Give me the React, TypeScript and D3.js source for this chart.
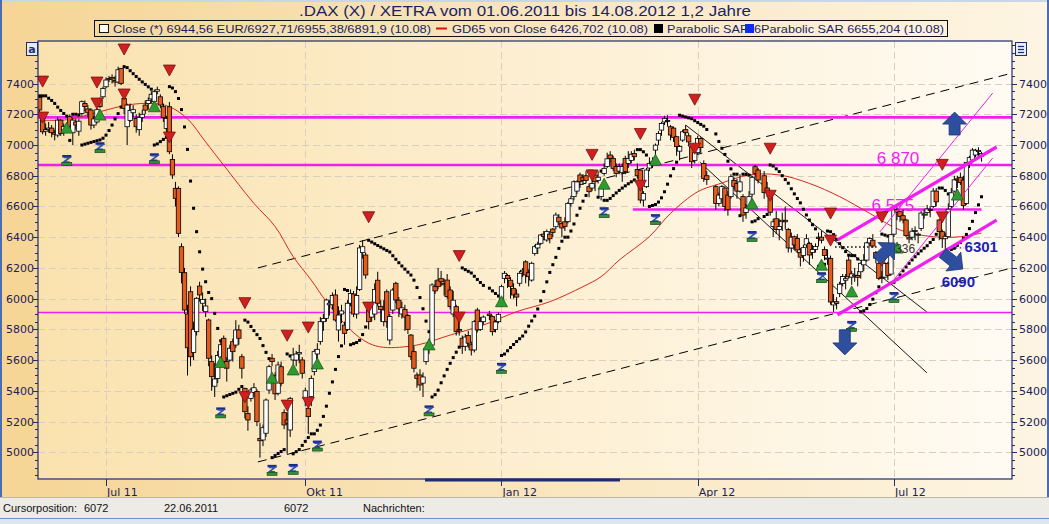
import React from 'react';
import * as d3 from 'd3';

type Bar = [number, number, number, number] | null;

// Daily OHLC, one slot per weekday from 01.06.2011 to 10.08.2012 (null = exchange holiday)
const jun11: Bar[] = [
  [7310,7320,7200,7228],[7184,7200,7070,7086],[7090,7140,7060,7100],[7100,7150,7080,7110],[7110,7130,7050,7080],
  [7080,7100,7030,7070],[7065,7180,7050,7162],[7162,7170,7060,7075],[7080,7140,7060,7120],[7110,7130,7080,7100],
  [7184,7200,7100,7123],[7080,7170,7000,7162],[7150,7170,7100,7130],[7090,7170,7060,7155],[7206,7290,7190,7282],
  [7270,7290,7220,7250],[7235,7260,7180,7210],[7228,7240,7100,7130],[7130,7190,7110,7170],[7150,7240,7140,7230],
  [7292,7310,7240,7250],[7314,7380,7300,7368],
];
const jul11: Bar[] = [
  [7379,7440,7370,7423],[7430,7450,7410,7433],[7440,7460,7400,7430],[7420,7450,7380,7410],[7410,7510,7400,7490],
  [7499,7500,7390,7401],[7303,7320,7200,7238],[7119,7270,7000,7260],[7160,7270,7150,7225],[7210,7260,7180,7230],
  [7173,7200,7080,7119],[7100,7210,7060,7180],[7180,7230,7150,7200],[7260,7290,7200,7227],[7270,7310,7230,7290],
  [7300,7350,7270,7330],[7282,7360,7260,7347],[7350,7380,7330,7360],[7314,7330,7240,7260],[7250,7270,7150,7180],
  [7108,7190,7080,7173],
];
const aug11: Bar[] = [
  [7249,7280,6940,6956],[6906,6940,6780,6805],[6718,6760,6600,6653],[6718,6730,6400,6425],[6338,6360,6100,6170],
  [6169,6200,5900,5926],[5900,5960,5500,5680],[6045,6080,5560,5622],[5650,5850,5600,5800],[5785,6010,5760,6002],
  [6082,6110,5980,6024],[5970,6040,5920,5995],[5915,6000,5880,5952],[5861,5870,5560,5612],[5590,5630,5400,5492],
  [5430,5580,5360,5477],[5480,5660,5450,5630],[5620,5720,5580,5700],[5742,5760,5560,5590],[5590,5620,5460,5547],
  [5600,5700,5590,5677],[5720,5740,5590,5655],[5698,5860,5680,5796],
];
const sep11: Bar[] = [
  [5796,5830,5700,5742],[5622,5640,5480,5547],[5416,5420,5220,5264],[5253,5300,5140,5210],[5351,5420,5330,5405],
  [5390,5450,5360,5420],[5395,5410,5170,5199],[5090,5190,4965,5075],[5080,5180,5040,5160],[5124,5350,5100,5340],
  [5405,5570,5380,5557],[5612,5640,5560,5590],[5500,5520,5340,5380],[5384,5590,5370,5568],[5557,5590,5430,5449],
  [5258,5280,5150,5178],[5210,5260,4990,5190],[5145,5360,5100,5351],[5601,5680,5570,5633],[5600,5660,5560,5640],
  [5640,5700,5580,5650],[5601,5620,5480,5514],
];
const oct11: Bar[] = [
  [5350,5420,5300,5400],[5286,5320,5120,5232],[5362,5500,5300,5481],[5525,5670,5500,5655],[5640,5710,5600,5670],
  [5720,5880,5700,5850],[5850,5900,5790,5870],[5872,6000,5850,5991],[5960,5990,5890,5970],[5960,6040,5930,6020],
  [6024,6060,5850,5861],[5796,5950,5720,5893],[5900,5960,5840,5920],[5828,5850,5700,5774],[5800,5990,5790,5970],
  [5970,6060,5950,6034],[6030,6050,5880,5900],[5900,6080,5870,6020],[6060,6350,6050,6330],[6300,6380,6260,6338],
  [6284,6300,6130,6154],
];
const nov11: Bar[] = [
  [5926,5960,5800,5850],[5880,5980,5850,5950],[5900,6100,5860,6060],[6120,6175,5950,5970],[5950,5990,5850,5930],
  [5850,5990,5820,5926],[6045,6060,5810,5850],[5731,5900,5700,5883],[5926,6070,5900,6056],[6100,6110,5970,5991],
  [5990,6010,5880,5933],[5900,5980,5870,5940],[5930,5960,5790,5880],[5890,5900,5770,5800],[5763,5770,5600,5622],
  [5655,5690,5520,5547],[5503,5520,5420,5481],[5503,5540,5400,5438],[5450,5520,5360,5490],[5590,5700,5570,5677],
  [5680,5740,5640,5700],[5698,6100,5690,6089],
];
const dec11: Bar[] = [
  [6080,6120,6030,6050],[6121,6200,6060,6078],[6130,6180,6080,6110],[6100,6130,6020,6090],[6121,6160,6000,6013],
  [6056,6080,5930,5948],[5900,6050,5880,5990],[5948,5960,5760,5785],[5800,5870,5760,5790],[5742,5760,5640,5688],
  [5690,5770,5660,5750],[5760,5790,5680,5710],[5700,5720,5630,5666],[5666,5860,5650,5850],[5926,5940,5780,5796],
  [5800,5880,5790,5850],[5850,5890,5830,5880],null,[5900,5920,5860,5890],[5883,5890,5760,5785],
  [5800,5860,5780,5848],[5850,5910,5840,5898],
];
const jan12: Bar[] = [
  [5980,6090,5970,6078],[6132,6180,6100,6165],[6150,6160,6070,6130],[6120,6140,6000,6080],[6067,6100,6000,6024],
  [6030,6060,5950,6010],[6100,6180,6080,6165],[6175,6200,6140,6185],[6240,6250,6100,6154],[6170,6190,6080,6143],
  [6121,6240,6110,6230],[6295,6350,6280,6338],[6330,6370,6290,6354],[6360,6420,6350,6414],[6420,6440,6380,6404],
  [6382,6450,6370,6436],[6420,6440,6360,6390],[6453,6460,6400,6431],[6468,6560,6450,6544],[6530,6550,6480,6500],
  [6490,6500,6400,6460],[6500,6530,6440,6470],
];
const feb12: Bar[] = [
  [6501,6630,6490,6620],[6620,6670,6600,6650],[6664,6770,6640,6761],[6700,6770,6680,6760],[6805,6820,6720,6761],
  [6790,6810,6740,6770],[6800,6830,6750,6770],[6729,6750,6660,6696],[6720,6770,6700,6750],[6805,6820,6700,6761],
  [6770,6830,6750,6790],[6664,6730,6640,6718],[6815,6880,6800,6848],[6860,6950,6850,6910],[6935,6960,6880,6913],
  [6913,6930,6830,6848],[6860,6880,6790,6815],[6830,6880,6810,6860],[6820,6880,6760,6860],[6913,6930,6810,6826],
  [6880,6960,6850,6913],
];
const mar12: Bar[] = [
  [6900,6960,6880,6940],[6945,6970,6900,6924],[6840,6880,6780,6800],[6837,6840,6620,6642],[6642,6700,6600,6685],
  [6729,6850,6720,6837],[6850,6920,6830,6880],[6880,6920,6850,6890],[6967,7010,6900,6999],[7032,7090,7000,7075],
  [7097,7150,7060,7140],[7150,7190,7130,7173],[7160,7194,7120,7154],[7119,7130,7030,7065],[7110,7120,7020,7050],
  [7054,7060,6930,6989],[6960,7000,6900,6990],[7032,7100,7020,7086],[7100,7130,7060,7080],[7060,7080,6990,7020],
  [6989,7000,6850,6891],[6900,6980,6880,6950],
];
const apr12: Bar[] = [
  [6950,7060,6940,7043],[7043,7050,6950,6983],[6880,6900,6760,6783],[6800,6830,6740,6775],null,
  null,[6729,6740,6580,6620],[6620,6690,6600,6674],[6650,6740,6620,6729],[6720,6730,6570,6600],
  [6674,6700,6540,6580],[6664,6810,6650,6794],[6770,6790,6710,6730],[6750,6780,6650,6700],[6700,6810,6690,6760],
  [6664,6680,6500,6544],[6560,6610,6520,6590],[6600,6700,6590,6664],[6680,6800,6660,6790],[6859,6870,6790,6815],
  [6837,6850,6750,6772],
];
const may12: Bar[] = [
  null,[6800,6830,6650,6690],[6720,6760,6660,6694],[6690,6700,6540,6562],[6470,6520,6400,6500],
  [6520,6570,6420,6450],[6450,6520,6380,6470],[6501,6560,6440,6510],[6510,6600,6450,6500],[6450,6460,6300,6330],
  [6330,6430,6300,6400],[6403,6410,6320,6349],[6392,6420,6300,6317],[6300,6330,6210,6270],[6280,6350,6240,6332],
  [6350,6420,6330,6390],[6360,6370,6220,6284],[6300,6350,6260,6320],[6320,6360,6300,6339],[6400,6430,6340,6391],
  [6400,6440,6360,6380],[6320,6340,6250,6281],[6262,6320,6220,6264],
];
const jun12: Bar[] = [
  [6262,6280,5960,5978],[5959,6030,5914,5978],[5980,6010,5930,5969],[6034,6110,6010,6094],[6099,6160,6080,6144],
  [6120,6160,6060,6130],[6251,6280,6130,6142],[6140,6180,6090,6161],[6150,6200,6110,6153],[6150,6180,6080,6139],
  [6175,6240,6130,6230],[6220,6290,6180,6250],[6251,6370,6240,6363],[6363,6400,6340,6392],[6380,6420,6330,6343],
  [6300,6310,6230,6263],[6230,6240,6120,6132],[6140,6180,6100,6136],[6140,6240,6130,6228],[6230,6240,6120,6150],
  [6160,6420,6150,6416],
];
const jul12: Bar[] = [
  [6420,6590,6400,6578],[6580,6600,6510,6560],[6566,6570,6500,6535],[6540,6580,6490,6512],[6512,6520,6400,6410],
  [6400,6420,6360,6388],[6400,6460,6380,6439],[6440,6470,6380,6444],[6420,6430,6360,6413],[6457,6570,6440,6557],
  [6550,6580,6520,6550],[6560,6610,6540,6584],[6580,6600,6530,6579],[6600,6720,6590,6700],[6700,6720,6600,6630],
  [6512,6520,6380,6436],[6436,6450,6330,6390],[6390,6430,6320,6406],[6403,6620,6400,6582],[6600,6720,6580,6689],
  [6700,6800,6690,6773],[6780,6800,6720,6772],
];
const aug12: Bar[] = [
  [6790,6820,6740,6755],[6772,6800,6580,6606],[6620,6890,6610,6886],[6880,6930,6850,6918],[6902,6980,6890,6967],
  [6935,6975,6920,6966],[6957,6985,6930,6965],[6927.71,6955.38,6891.9,6944.56],
];

const ohlc: Bar[] = [
  ...jun11, ...jul11, ...aug11, ...sep11, ...oct11, ...nov11, ...dec11,
  ...jan12, ...feb12, ...mar12, ...apr12, ...may12, ...jun12, ...jul12, ...aug12,
];

const xTickIdx = [22, 88, 153, 218, 283];
const xTickLabels = ['Jul 11', 'Okt 11', 'Jan 12', 'Apr 12', 'Jul 12'];
const yTickValues = [5000, 5200, 5400, 5600, 5800, 6000, 6200, 6400, 6600, 6800, 7000, 7200, 7400];

// GD65 (65-day moving average)
const gd65Idx = [0, 9, 20, 29, 37, 43, 49, 55, 61, 71, 78, 84, 90, 95, 103, 109, 114, 125, 136, 147, 158, 169, 180, 186, 192, 202, 209, 218, 225, 235, 245, 255, 265, 275, 285, 296, 305, 312];
const gd65Val = [7162, 7165, 7217, 7260, 7271, 7249, 7170, 7020, 6868, 6620, 6470, 6273, 6120, 5980, 5796, 5710, 5683, 5698, 5763, 5828, 5915, 5980, 6078, 6143, 6251, 6404, 6555, 6696, 6746, 6805, 6805, 6750, 6664, 6555, 6447, 6403, 6403, 6427];

// Signal markers
const sellIdx = [1, 19, 28, 43, 68, 82, 89, 109, 139, 183, 199, 217, 242, 262, 279, 299];
const sellTop = [7416, 7410, 7625, 7488, 5974, 5762, 5815, 6533, 6280, 6939, 7075, 7298, 6979, 6557, 6533, 6874];
const sellMid = [7182, 7273, 7332, 7052, 5362, 5307, 5325, 5945, 5880, 6805, 6738, 6979, 6673, 6381, 6251, 6533];
const buyIdx = [9, 20, 38, 60, 77, 84, 92, 129, 153, 187, 204, 236, 259, 269, 284, 304];
const buyVal = [7110, 7195, 7249, 5584, 5482, 5536, 5575, 5699, 5980, 6745, 6901, 6617, 6218, 6044, 6329, 6674];
const flagIdx = [9, 20, 38, 60, 77, 84, 92, 129, 153, 187, 204, 236, 259, 269, 283];
const flagVal = [6896, 6979, 6907, 5253, 4879, 4885, 5037, 5266, 5543, 6556, 6511, 6401, 6133, 5816, 6004];

// Drawn analysis lines (index, value)
const channelHigh = [[72.3, 6200], [322.1, 7468]];
const channelLow = [[72.3, 4937], [322.1, 6200]];
const downLineA = [[214, 7130], [293.9, 5913]];
const downLineB = [[218.7, 6889], [293.9, 5517]];
const magThickA = [[264.3, 6382], [317, 6987]];
const magThickB = [[264.3, 5894], [317, 6511]];
const magThin1 = [[278.3, 6434], [315.7, 7338]];
const magThin2 = [[281.6, 6089], [315.7, 6915]];
const mag6575 = [[196.5, 6580], [312, 6580]];
const magFullThick = [7180, 6870];
const magFullThin = [5910];
const dotted6336 = [[263.5, 6336], [278, 6336]];
const dottedBlue = [[300.8, 6330], [306.2, 6330]];

const arrowsUp = [[[303.1, 7065], [303.1, 7214]], [[277.3, 6251], [283.3, 6362]]];
const arrowsDown = [[[266.7, 5797], [266.7, 5634]], [[299.1, 6297], [305.8, 6193]]];

const labelsMagenta = [[277.3, 6876, '6 870'], [275.6, 6570, '6 575']];
const labelsBlue = [[306.4, 6304, '6301'], [298.8, 6076, '6090']];
const labelGray = [[281.2, 6297, '6336']];

function parabolicSar(rows: Bar[], startSar: number) {
  const out: [number, number][] = [];
  let up = false, af = 0.02, ep = NaN, sar = NaN;
  const hist: [number, number, number, number][] = [];
  rows.forEach((r, i) => {
    if (!r) return;
    if (isNaN(sar)) {
      sar = startSar; ep = r[2];
      out.push([i, sar]); hist.push(r); return;
    }
    const p1 = hist[hist.length - 1];
    const p2 = hist.length > 1 ? hist[hist.length - 2] : p1;
    let next = sar + af * (ep - sar);
    if (up) {
      next = Math.min(next, p1[2], p2[2]);
      if (r[2] < next) { up = false; next = ep; ep = r[2]; af = 0.02; }
      else if (r[1] > ep) { ep = r[1]; af = Math.min(af + 0.02, 0.2); }
    } else {
      next = Math.max(next, p1[1], p2[1]);
      if (r[1] > next) { up = true; next = ep; ep = r[1]; af = 0.02; }
      else if (r[2] < ep) { ep = r[2]; af = Math.min(af + 0.02, 0.2); }
    }
    sar = next; out.push([i, sar]); hist.push(r);
  });
  return out;
}

function arrowPath(x1: number, y1: number, x2: number, y2: number, shaft = 11, headW = 24, headL = 12) {
  const dx = x2 - x1, dy = y2 - y1, len = Math.hypot(dx, dy);
  const ux = dx / len, uy = dy / len, nx = -uy, ny = ux;
  const bx = x2 - ux * headL, by = y2 - uy * headL;
  const pts = [
    [x1 + nx * shaft / 2, y1 + ny * shaft / 2],
    [bx + nx * shaft / 2, by + ny * shaft / 2],
    [bx + nx * headW / 2, by + ny * headW / 2],
    [x2, y2],
    [bx - nx * headW / 2, by - ny * headW / 2],
    [bx - nx * shaft / 2, by - ny * shaft / 2],
    [x1 - nx * shaft / 2, y1 - ny * shaft / 2],
  ];
  return 'M' + pts.map(p => p[0].toFixed(1) + ',' + p[1].toFixed(1)).join('L') + 'Z';
}

export default function App() {
  const W = 1049, H = 524;
  const L = 38, R = 1012, T = 41, B = 479;
  const x = d3.scaleLinear().domain([-0.53, 322.1]).range([L, R]);
  const y = d3.scaleLinear().domain([4826, 7677]).range([B, T]);
  const sar = parabolicSar(ohlc, 7320);
  const gdLine = d3.line<number>().x((_, k) => x(gd65Idx[k])).y(v => y(v)).curve(d3.curveCatmullRom)(gd65Val) || '';
  const seg = (pts: number[][]) => ({ x1: x(pts[0][0]), y1: y(pts[0][1]), x2: x(pts[1][0]), y2: y(pts[1][1]) });
  const navy = '#1f2c6e';
  const axisFont = 'DejaVu Sans, Verdana, sans-serif';
  const minorTicks = d3.range(4850, 7651, 50);
  const magenta = '#f01ef0';

  return (
    <svg width={W} height={H} style={{ position: 'fixed', left: 0, top: 0, display: 'block' }}>
      <defs>
        <linearGradient id="bgOuter" x1="0" x2="1" y1="0" y2="0">
          <stop offset="0" stopColor="#f6d596" />
          <stop offset="1" stopColor="#fdf5e3" />
        </linearGradient>
        <linearGradient id="bgPlot" x1="0" x2="1" y1="0" y2="0">
          <stop offset="0" stopColor="#fae2ae" />
          <stop offset="1" stopColor="#fffbf3" />
        </linearGradient>
        <clipPath id="plotClip"><rect x={L} y={T} width={R - L} height={B - T} /></clipPath>
      </defs>
      <rect x={0} y={0} width={W} height={H} fill="url(#bgOuter)" />
      <rect x={0} y={0} width={W} height={2} fill="#c9d5e8" />
      <rect x={L} y={T} width={R - L} height={B - T} fill="url(#bgPlot)" />

      {/* grid */}
      <g stroke="#d8cfbf" strokeWidth={1} strokeDasharray="7,4">
        {yTickValues.map(v => <line key={'gy' + v} x1={L} x2={R} y1={Math.round(y(v)) + 0.5} y2={Math.round(y(v)) + 0.5} />)}
        {xTickIdx.map(i => <line key={'gx' + i} x1={Math.round(x(i)) + 0.5} x2={Math.round(x(i)) + 0.5} y1={T} y2={B} />)}
      </g>

      <g clipPath="url(#plotClip)">
        {/* channel lines */}
        {[channelHigh, channelLow].map((p, k) => <line key={'ch' + k} {...seg(p)} stroke="#000" strokeWidth={1} strokeDasharray="9,6" />)}
        {[downLineA, downLineB].map((p, k) => <line key={'dl' + k} {...seg(p)} stroke="#000" strokeWidth={0.9} />)}
        {/* horizontal magenta levels */}
        {magFullThick.map(v => <line key={'mf' + v} x1={L} x2={R} y1={y(v)} y2={y(v)} stroke={magenta} strokeWidth={2.6} />)}
        {magFullThin.map(v => <line key={'mt' + v} x1={L} x2={R} y1={y(v)} y2={y(v)} stroke={magenta} strokeWidth={1.5} />)}
        <line {...seg(mag6575)} stroke={magenta} strokeWidth={2.6} />
        {/* GD65 */}
        <path d={gdLine} fill="none" stroke="#d42a1e" strokeWidth={1} />
        {/* SAR dots */}
        <g fill="#000">
          {sar.map(([i, v]) => <rect key={'s' + i} x={x(i) - 1.5} y={y(v) - 1.5} width={3} height={3} />)}
        </g>
        {/* candles */}
        <g>
          {ohlc.map((r, i) => {
            if (!r) return null;
            const [o, h, l, c] = r;
            const cx = x(i);
            const top = y(Math.max(o, c)), bot = y(Math.min(o, c));
            return (
              <g key={'c' + i}>
                <line x1={cx} x2={cx} y1={y(h)} y2={y(l)} stroke="#000" strokeWidth={1} />
                <rect x={cx - 2.2} y={top} width={4.4} height={Math.max(1, bot - top)} fill={c >= o ? '#ffffff' : '#e65a1c'} stroke="#000" strokeWidth={0.8} />
              </g>
            );
          })}
        </g>
        {/* dotted levels */}
        <line {...seg(dotted6336)} stroke="#000" strokeWidth={1.3} strokeDasharray="1.5,2.5" />
        <line {...seg(dottedBlue)} stroke="#2233bb" strokeWidth={1.3} strokeDasharray="1.5,2.5" />
        {/* magenta trend lines */}
        <line {...seg(magThin1)} stroke={magenta} strokeWidth={1} />
        <line {...seg(magThin2)} stroke={magenta} strokeWidth={1} />
        <line {...seg(magThickA)} stroke={magenta} strokeWidth={3.2} />
        <line {...seg(magThickB)} stroke={magenta} strokeWidth={3.2} />
        {/* markers */}
        {sellIdx.map((i, k) => [sellTop[k], sellMid[k]].map((v, j) => {
          const cx = x(i), cy = y(v);
          return <path key={'sell' + k + '_' + j} d={`M${cx - 6},${cy - 5}L${cx + 6},${cy - 5}L${cx},${cy + 6}Z`} fill="#cf1f1f" stroke="#7a1010" strokeWidth={0.8} />;
        }))}
        {buyIdx.map((i, k) => {
          const cx = x(i), cy = y(buyVal[k]);
          return <path key={'buy' + k} d={`M${cx - 6},${cy + 5}L${cx + 6},${cy + 5}L${cx},${cy - 6}Z`} fill="#2f9a2f" stroke="#1b5e1b" strokeWidth={0.8} />;
        })}
        {flagIdx.map((i, k) => {
          const cx = x(i), cy = y(flagVal[k]);
          return (
            <g key={'flag' + k}>
              <rect x={cx - 4.5} y={cy - 6} width={9} height={2.5} fill="#1a2a8a" />
              <path d={`M${cx - 3},${cy - 3.5}L${cx + 3},${cy - 3.5}L${cx - 3},${cy + 1}L${cx + 3},${cy + 1}`} fill="none" stroke="#2f4fb0" strokeWidth={1.6} />
              <rect x={cx - 5} y={cy + 1.5} width={10} height={3} fill="#2f8f3a" stroke="#143d18" strokeWidth={0.6} />
            </g>
          );
        })}
        {/* text annotations */}
        {labelsMagenta.map(([i, v, t]) => (
          <text key={'lm' + t} x={x(i as number)} y={y(v as number)} fontFamily="Liberation Sans, Arial, sans-serif" fontSize={17} fill={magenta}>{t}</text>
        ))}
        {labelGray.map(([i, v, t]) => (
          <text key={'lg' + t} x={x(i as number)} y={y(v as number)} fontFamily="Liberation Sans, Arial, sans-serif" fontSize={12} fill="#333">{t}</text>
        ))}
        {labelsBlue.map(([i, v, t]) => (
          <text key={'lb' + t} x={x(i as number)} y={y(v as number)} fontFamily="Liberation Sans, Arial, sans-serif" fontSize={15} fontWeight="bold" fill="#1c22b8">{t}</text>
        ))}
        {/* arrows */}
        {[...arrowsUp, ...arrowsDown].map((a, k) => (
          <path key={'ar' + k} d={arrowPath(x(a[0][0]), y(a[0][1]), x(a[1][0]), y(a[1][1]))} fill="#2e4f9d" stroke="#1d3577" strokeWidth={0.8} />
        ))}
      </g>

      {/* frame & axes */}
      <rect x={L} y={T} width={R - L} height={B - T} fill="none" stroke={navy} strokeWidth={1.2} />
      <line x1={425} x2={620} y1={B + 1} y2={B + 1} stroke={navy} strokeWidth={3} />
      <g stroke={navy} strokeWidth={1}>
        {minorTicks.map(v => {
          const major = v % 200 === 0;
          const yy = Math.round(y(v)) + 0.5;
          return (
            <g key={'t' + v}>
              <line x1={L - (major ? 5 : 3)} x2={L} y1={yy} y2={yy} />
              <line x1={R} x2={R + (major ? 5 : 3)} y1={yy} y2={yy} />
            </g>
          );
        })}
        {xTickIdx.map(i => <line key={'xt' + i} x1={Math.round(x(i)) + 0.5} x2={Math.round(x(i)) + 0.5} y1={B} y2={B + 7} />)}
      </g>
      <g fontFamily={axisFont} fontSize={11} fill="#1b2158">
        {yTickValues.map(v => (
          <g key={'yl' + v}>
            <text x={34} y={y(v) + 4} textAnchor="end">{v}</text>
            <text x={1019} y={y(v) + 4}>{v}</text>
          </g>
        ))}
        {xTickIdx.map((i, k) => <text key={'xl' + i} x={x(i) + 1} y={496}>{xTickLabels[k]}</text>)}
      </g>

      {/* corner icons */}
      <rect x={26.5} y={42.5} width={11} height={13} fill="#e3ebfa" stroke={navy} />
      <text x={32} y={53} textAnchor="middle" fontFamily={axisFont} fontSize={11} fontWeight="bold" fill={navy}>a</text>
      <rect x={1015.5} y={42.5} width={11} height={13} fill="#e3ebfa" stroke={navy} />
      <g stroke={navy} strokeWidth={1.2}>
        <line x1={1018} x2={1024} y1={46.5} y2={46.5} />
        <line x1={1018} x2={1024} y1={49.5} y2={49.5} />
        <line x1={1018} x2={1024} y1={52.5} y2={52.5} />
      </g>

      {/* title */}
      <text x={525} y={16} textAnchor="middle" fontFamily="Liberation Sans, Arial, sans-serif" fontSize={14} fill="#1a1f66" textLength={452} lengthAdjust="spacingAndGlyphs">.DAX (X) / XETRA vom 01.06.2011 bis 14.08.2012 1,2 Jahre</text>

      {/* legend */}
      <rect x={94.5} y={20.5} width={853} height={16} fill="none" stroke="#111" strokeWidth={1} />
      <g fontFamily="Liberation Sans, Arial, sans-serif" fontSize={11.5} fill="#1a1f66">
        <rect x={99.5} y={24.5} width={9} height={8} fill="#fffaf0" stroke="#111" />
        <text x={113} y={32.5} textLength={318} lengthAdjust="spacingAndGlyphs">Close (*) 6944,56 EUR/6927,71/6955,38/6891,9 (10.08)</text>
        <line x1={436} x2={447} y1={28.5} y2={28.5} stroke="#e01010" strokeWidth={2} />
        <text x={452} y={32.5} textLength={196} lengthAdjust="spacingAndGlyphs">GD65 von Close 6426,702 (10.08)</text>
        <rect x={654} y={24} width={9} height={9} fill="#000" />
        <text x={667} y={32.5} textLength={82} lengthAdjust="spacingAndGlyphs">Parabolic SAR</text>
        <rect x={745} y={24} width={9} height={9} fill="#1030e0" />
        <text x={754} y={32.5} textLength={190} lengthAdjust="spacingAndGlyphs">6Parabolic SAR 6655,204 (10.08)</text>
      </g>

      {/* window borders and status bar */}
      <rect x={0} y={0} width={2} height={498} fill="#4a6cb0" />
      <rect x={1047} y={0} width={2} height={498} fill="#4a6cb0" />
      <rect x={0} y={498} width={W} height={20} fill="#ecebe6" />
      <line x1={0} x2={W} y1={497.5} y2={497.5} stroke="#b9b6ac" />
      <line x1={0} x2={W} y1={518.5} y2={518.5} stroke="#7390c0" />
      <rect x={0} y={519} width={W} height={5} fill="#dfe5ef" />
      <g fontFamily="Liberation Sans, Arial, sans-serif" fontSize={11} fill="#111">
        <text x={3} y={512} textLength={74} lengthAdjust="spacingAndGlyphs">Cursorposition:</text>
        <text x={84} y={512}>6072</text>
        <text x={164} y={512}>22.06.2011</text>
        <text x={284} y={512}>6072</text>
        <text x={363} y={512}>Nachrichten:</text>
      </g>
    </svg>
  );
}
